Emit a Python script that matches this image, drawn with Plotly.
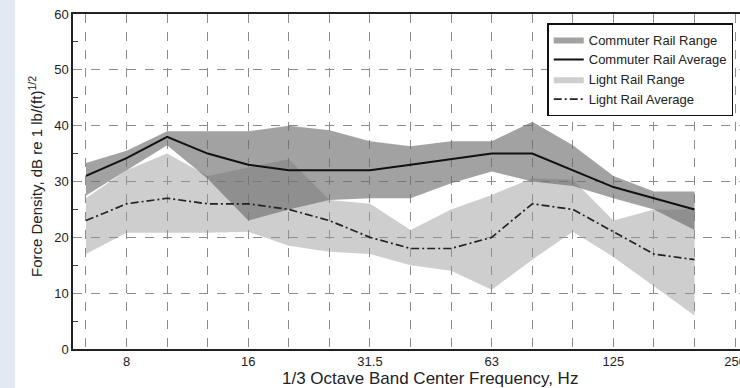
import plotly.graph_objects as go

freqs = ["6.3", "8", "10", "12.5", "16", "20", "25", "31.5", "40", "50",
         "63", "80", "100", "125", "160", "200"]
all_bands = freqs + ["250"]
tick_labels = ["8", "16", "31.5", "63", "125", "250"]

commuter_upper = [33.3, 35.5, 39, 39, 39, 40, 39.2, 37.2, 36.3, 37.2, 37.2, 40.7, 36.5, 31, 28.2, 28.2]
commuter_lower = [27.5, 32, 36.5, 30.5, 23, 25, 26.7, 27, 27, 29.7, 31.8, 30, 29.2, 27, 25, 21.3]
commuter_avg = [31, 34.2, 38, 35, 33, 32, 32, 32, 33, 34, 35, 35, 32, 29, 27, 25]
light_upper = [27, 32, 35, 31, 32.5, 34, 26.7, 26, 21.3, 25, 27.6, 30.6, 30.3, 23, 25, 25]
light_lower = [17, 20.8, 20.8, 20.8, 21, 18.5, 17.4, 17, 15, 14, 10.6, 16, 21, 16.5, 11.2, 6]
light_avg = [23, 26, 27, 26, 26, 25, 23, 20, 18, 18, 20, 26, 25, 21, 17, 16]

# band position on the 1/3-octave scale (index in the band list)
xpos = [all_bands.index(f) for f in freqs]
tickpos = [all_bands.index(t) for t in tick_labels]

FONT = "Liberation Sans, Arial, Helvetica, sans-serif"
GRID = "#8c8c8c"

fig = go.Figure()

fig.add_trace(go.Scatter(
    x=xpos + xpos[::-1], y=light_upper + light_lower[::-1],
    fill="toself", fillcolor="rgba(150,150,150,0.47)", mode="lines",
    line=dict(width=0), name="Light Rail Range", legendrank=3, hoverinfo="skip"))
fig.add_trace(go.Scatter(
    x=xpos + xpos[::-1], y=commuter_upper + commuter_lower[::-1],
    fill="toself", fillcolor="rgba(105,105,105,0.62)", mode="lines",
    line=dict(width=0), name="Commuter Rail Range", legendrank=1, hoverinfo="skip"))
fig.add_trace(go.Scatter(
    x=xpos, y=commuter_avg, mode="lines",
    line=dict(color="#111111", width=2), name="Commuter Rail Average", legendrank=2))
fig.add_trace(go.Scatter(
    x=xpos, y=light_avg, mode="lines",
    line=dict(color="#222222", width=1.7, dash="8px,3px,2px,3px"),
    name="Light Rail Average", legendrank=4))

fig.add_shape(type="rect", xref="paper", yref="paper",
              x0=-73 / 667, x1=-58 / 667, y0=-39 / 335, y1=349 / 335,
              fillcolor="#e3e9f3", line=dict(width=0), layer="below")

# x-axis title (the original plot area runs past the right edge of the image)
fig.add_annotation(text="1/3 Octave Band Center Frequency, Hz",
                   xref="paper", yref="paper", x=(430 - 73) / 667,
                   y=(349 - 378) / 335, xanchor="center", yanchor="middle",
                   showarrow=False, font=dict(size=17, family=FONT, color="#222222"))
# y-axis title
fig.add_annotation(text="Force Density, dB re 1 lb/(ft)<sup>1/2</sup>",
                   xref="paper", yref="paper", x=(35 - 73) / 667,
                   y=(349 - 177) / 335, xanchor="center", yanchor="middle",
                   textangle=-90, showarrow=False,
                   font=dict(size=15, family=FONT, color="#222222"))

fig.update_layout(
    width=740, height=388,
    margin=dict(l=73, r=0, t=14, b=39),
    paper_bgcolor="white", plot_bgcolor="white",
    font=dict(family=FONT, size=13, color="#222222"),
    showlegend=True,
    legend=dict(x=0.711, y=0.973, xanchor="left", yanchor="top",
                bgcolor="white", bordercolor="#111111", borderwidth=1.5,
                font=dict(size=13, family=FONT, color="#222222"),
                tracegroupgap=0),
    xaxis=dict(range=[-0.32, 16.12], tickmode="array", tickvals=tickpos,
               ticktext=tick_labels, showgrid=True, gridcolor=GRID,
               griddash="dash", gridwidth=1, showline=True, linecolor="#222222",
               linewidth=1.5, mirror=True, ticks="", automargin=False,
               zeroline=False, ticklabeloverflow="allow",
               minor=dict(tickmode="linear", tick0=0, dtick=1, showgrid=True,
                          gridcolor=GRID, griddash="dash", gridwidth=1, ticks="")),
    yaxis=dict(range=[0, 60], tickmode="linear", tick0=0, dtick=10,
               showgrid=True, gridcolor=GRID, griddash="dash", gridwidth=1,
               showline=True, linecolor="#222222", linewidth=1.5, mirror=False,
               ticks="", automargin=False, zeroline=False,
               minor=dict(ticks="inside", ticklen=5, dtick=5, tickcolor="#444444",
                          showgrid=False)),
)

fig.write_html("out.html")
